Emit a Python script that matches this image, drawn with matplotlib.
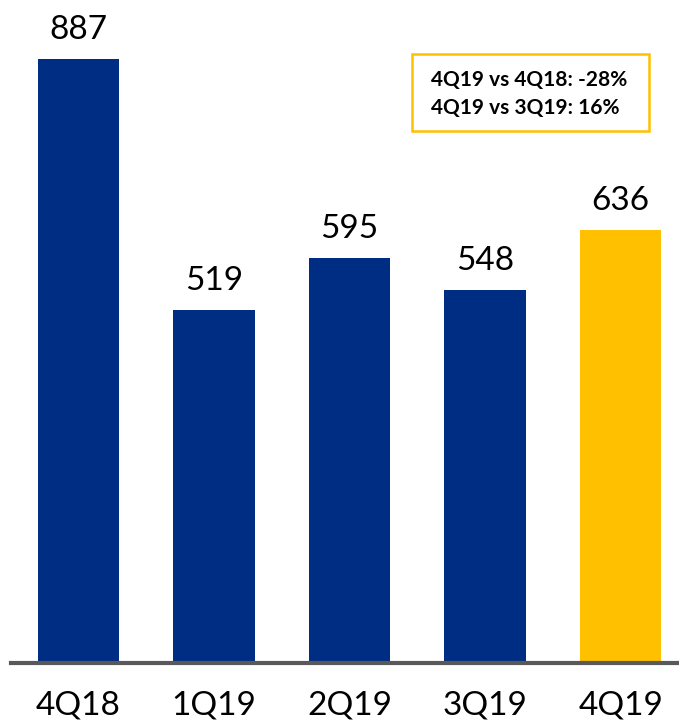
import matplotlib.pyplot as plt
from matplotlib.patches import Rectangle

quarters = ["4Q18", "1Q19", "2Q19", "3Q19", "4Q19"]
values = [887, 519, 595, 548, 636]
bar_colors = ["#002D84", "#002D84", "#002D84", "#002D84", "#FFC000"]
notes = ["4Q19 vs 4Q18: -28%", "4Q19 vs 3Q19: 16%"]

plt.rcParams['font.family'] = ['Lato', 'DejaVu Sans']

fig = plt.figure(figsize=(6.79, 7.2), dpi=100)
ax = fig.add_axes([11 / 679, 57 / 720, 668 / 679, 663 / 720])

x = list(range(len(quarters)))
bars = ax.bar(x, values, width=0.6, color=bar_colors)

for xi, v in zip(x, values):
    ax.annotate(str(v), (xi, v), xytext=(0, 10), textcoords="offset points",
                ha="center", va="bottom", fontsize=24, color="black")

ax.set_xlim(-0.498, 4.43)
ax.set_ylim(0, 973.6)
ax.set_xticks(x)
ax.set_xticklabels(quarters, fontsize=24)
ax.tick_params(axis="x", length=0, pad=20)
ax.set_yticks([])

for side in ["top", "right", "left"]:
    ax.spines[side].set_visible(False)
ax.spines["bottom"].set_color("#595959")
ax.spines["bottom"].set_linewidth(3)

# boxed comparison note
box = Rectangle((412 / 679, 1 - 131 / 720), 237 / 679, 77 / 720,
                transform=fig.transFigure, fill=False, edgecolor="#FFC000",
                linewidth=1.8)
fig.patches.append(box)
fig.text(431 / 679, 1 - 80 / 720, notes[0], fontsize=15, fontweight="bold",
         ha="left", va="center")
fig.text(431 / 679, 1 - 108 / 720, notes[1], fontsize=15, fontweight="bold",
         ha="left", va="center")

fig.savefig("out.png", dpi=100)
